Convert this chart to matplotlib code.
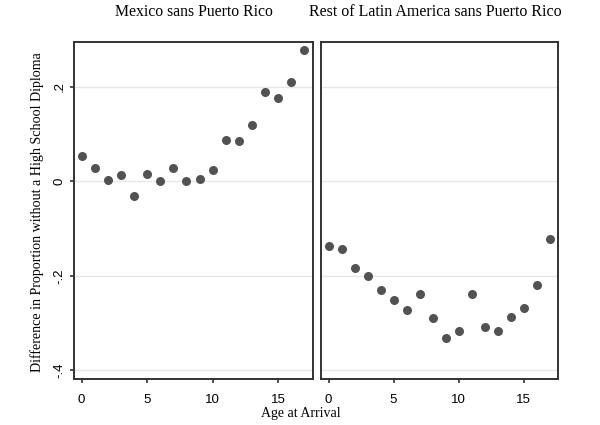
import matplotlib
matplotlib.use("Agg")
import matplotlib.pyplot as plt

ages = list(range(18))
mexico = [0.053, 0.028, 0.004, 0.013, -0.030, 0.016, 0.000, 0.029, 0.000, 0.006,
          0.025, 0.088, 0.085, 0.120, 0.189, 0.177, 0.210, 0.279]
rest_latam = [-0.136, -0.143, -0.183, -0.200, -0.230, -0.250, -0.273, -0.238, -0.288, -0.331,
              -0.317, -0.238, -0.307, -0.317, -0.286, -0.268, -0.219, -0.122]
titles = ["Mexico sans Puerto Rico", "Rest of Latin America sans Puerto Rico"]
yticks = [-0.4, -0.2, 0.0, 0.2]
yticklabels = ["-.4", "-.2", "0", ".2"]
xticks = [0, 5, 10, 15]

fig = plt.figure(figsize=(6, 4.25), dpi=100)
ax1 = fig.add_axes([74/600, 1-379/425, 239/600, 337/425])
ax2 = fig.add_axes([321/600, 1-379/425, 237/600, 337/425])

serif = "Liberation Serif"
sans = "Liberation Sans"

for ax, data, title in [(ax1, mexico, titles[0]), (ax2, rest_latam, titles[1])]:
    ax.set_ylim(-0.418, 0.295)
    ax.set_xlim(-0.58, 17.65)
    for y in yticks:
        ax.axhline(y, color="#e6e6e6", lw=1.0, zorder=0)
    ax.plot(ages, data, "o", color="#525252", markersize=6.5, markeredgewidth=0, zorder=3)
    ax.set_xticks(xticks)
    ax.set_xticklabels([str(t) for t in xticks], fontfamily=sans, fontsize=9.5)
    ax.tick_params(axis="x", direction="out", length=3, width=1.2, color="#333333", pad=7.5)
    for s in ax.spines.values():
        s.set_linewidth(1.4)
        s.set_color("#333333")

fig.text(194/600, 1-12/425, titles[0], ha="center", va="center",
         fontfamily=serif, fontsize=11.3)
fig.text(435/600, 1-12/425, titles[1], ha="center", va="center",
         fontfamily=serif, fontsize=11.5)

ax1.set_yticks(yticks)
ax1.set_yticklabels(yticklabels, fontfamily=sans, fontsize=9.5, rotation=90, va="center")
ax1.tick_params(axis="y", direction="out", length=3, width=1.2, color="#333333", pad=3)
ax2.set_yticks([])

fig.text(37/600, 1-212/425, "Difference in Proportion without a High School Diploma",
         rotation=90, ha="center", va="center", fontfamily=serif, fontsize=10.1)
fig.text(301/600, 1-414/425, "Age at Arrival", ha="center", va="center",
         fontfamily=serif, fontsize=10)

fig.savefig("out.png", dpi=100, facecolor="white")
